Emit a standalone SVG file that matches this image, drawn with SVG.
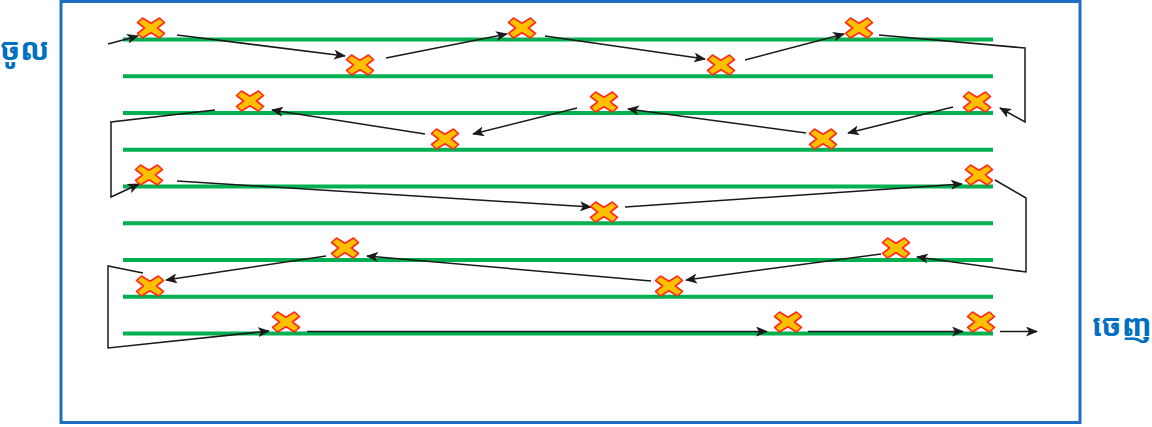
<svg xmlns="http://www.w3.org/2000/svg" width="1152" height="427" viewBox="0 0 1152 427">
<style>
.row{stroke:#00B050;stroke-width:4;fill:none}
.c{stroke:#1a1a1a;stroke-width:1.5;fill:none}
.a{marker-end:url(#ah)}
.lbl{font-family:"Noto Sans Khmer","Khmer OS","Noto Sans","DejaVu Sans",sans-serif;font-size:30px;font-weight:bold;fill:#0070C0}
.x{fill:#FFC000;stroke:#FF2A1A;stroke-width:1.6;stroke-linejoin:round}
</style>
<defs>
<marker id="ah" markerWidth="12" markerHeight="10" refX="11" refY="5" orient="auto" markerUnits="userSpaceOnUse">
<path d="M0,0 L12,5 L0,10 L3,5 Z" fill="#1a1a1a"/>
</marker>
<polygon id="xm" class="x" points="-13.5,-5.5 -8.5,-10 0,-4.8 8.5,-10 13.5,-5.5 6.5,0 13.5,5.5 8.5,10 0,4.8 -8.5,10 -13.5,5.5 -6.5,0"/>
</defs>
<rect id="border" x="61" y="1.5" width="1019" height="421" fill="none" stroke="#1F6FC1" stroke-width="3"/>
<g id="label-in"><text class="lbl" x="0" y="60">ចូល</text></g>
<g id="label-out"><text class="lbl" x="1092" y="336">ចេញ</text></g>
<g id="rows">
<line class="row" x1="123" y1="39.5" x2="993" y2="39.5"/>
<line class="row" x1="123" y1="76.25" x2="993" y2="76.25"/>
<line class="row" x1="123" y1="113" x2="993" y2="113"/>
<line class="row" x1="123" y1="149.75" x2="993" y2="149.75"/>
<line class="row" x1="123" y1="186.5" x2="993" y2="186.5"/>
<line class="row" x1="123" y1="223.25" x2="993" y2="223.25"/>
<line class="row" x1="123" y1="260" x2="993" y2="260"/>
<line class="row" x1="123" y1="296.75" x2="993" y2="296.75"/>
<line class="row" x1="123" y1="333.5" x2="993" y2="333.5"/>
</g>
<g id="connectors">
<path class="c a" d="M108,44 L138,36"/>
<path class="c a" d="M177,35 L345,56"/>
<path class="c a" d="M386,58 L507,34"/>
<path class="c a" d="M545,36 L705,59"/>
<path class="c a" d="M745,60 L844,34"/>
<path class="c a" d="M879,35 L1025,48 L1025,122 L1000,108"/>
<path class="c a" d="M953,107 L848,133"/>
<path class="c a" d="M806,133 L628,109"/>
<path class="c a" d="M577,108 L473,134"/>
<path class="c a" d="M425,134 L272,110"/>
<path class="c a" d="M215,110 L111,122 L111,197 L139,184"/>
<path class="c a" d="M177,181 L591,207"/>
<path class="c a" d="M625,207 L962,184"/>
<path class="c a" d="M995,180 L1026,198 L1026,272 L917,257"/>
<path class="c a" d="M881,254 L686,280"/>
<path class="c a" d="M651,281 L367,256"/>
<path class="c a" d="M326,256 L166,280"/>
<path class="c a" d="M143,273 L108,266 L108,348 L269,331"/>
<path class="c a" d="M307,331.5 L767,331.5"/>
<path class="c a" d="M808,331.5 L963,331.5"/>
<path class="c a" d="M1000,331.5 L1037,331.5"/>
</g>
<g id="markers">
<use href="#xm" x="151" y="28"/>
<use href="#xm" x="522" y="28"/>
<use href="#xm" x="859" y="28"/>
<use href="#xm" x="360" y="65"/>
<use href="#xm" x="721" y="65"/>
<use href="#xm" x="250" y="101"/>
<use href="#xm" x="604" y="102"/>
<use href="#xm" x="977" y="102"/>
<use href="#xm" x="445" y="139"/>
<use href="#xm" x="823" y="139"/>
<use href="#xm" x="149" y="175"/>
<use href="#xm" x="979" y="175"/>
<use href="#xm" x="604" y="212"/>
<use href="#xm" x="345" y="248"/>
<use href="#xm" x="896" y="248"/>
<use href="#xm" x="150" y="286"/>
<use href="#xm" x="669" y="286"/>
<use href="#xm" x="286" y="322"/>
<use href="#xm" x="788" y="322"/>
<use href="#xm" x="981" y="322"/>
</g>
</svg>
